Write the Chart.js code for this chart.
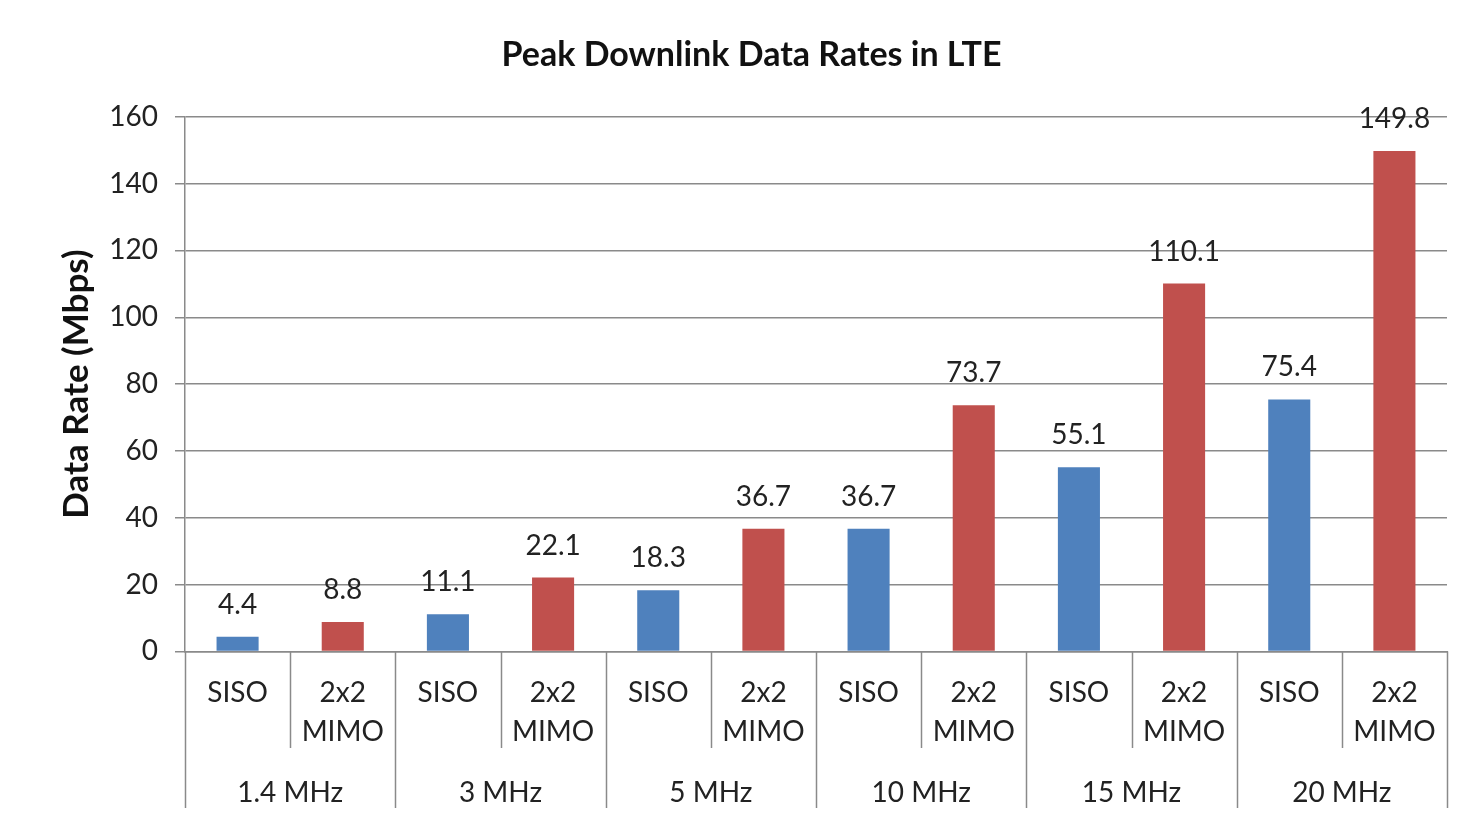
<!doctype html>
<html>
  <head>
    <script src="https://cdnjs.cloudflare.com/ajax/libs/Chart.js/4.4.1/chart.umd.js"></script>
    <style>
      body { margin: 0; background: #fff; }
      #wrap { width: 1474px; height: 825px; }
    </style>
    <script>
      // values
      let bandwidths = ['1.4 MHz', '3 MHz', '5 MHz', '10 MHz', '15 MHz', '20 MHz'];
      let modes = [['SISO'], ['2x2', 'MIMO']];
      let sisoRates = [4.4, 11.1, 18.3, 36.7, 55.1, 75.4];
      let mimoRates = [8.8, 22.1, 36.7, 73.7, 110.1, 149.8];
      let yTicks = [0, 20, 40, 60, 80, 100, 120, 140, 160];

      let blue = '#4F81BD';
      let red = '#C0504D';
      let lineColor = '#8a8a8a';
      let fontName = "Lato, 'Open Sans', sans-serif";

      // one bar per (bandwidth, mode)
      let labels = [];
      let values = [];
      let colors = [];
      for (let i = 0; i < bandwidths.length; i++) {
        labels.push(modes[0]); values.push(sisoRates[i]); colors.push(blue);
        labels.push(modes[1]); values.push(mimoRates[i]); colors.push(red);
      }

      // numbers on top of the bars
      let valueLabels = {
        id: 'valueLabels',
        afterDatasetsDraw(chart) {
          let ctx = chart.ctx;
          let meta = chart.getDatasetMeta(0);
          ctx.save();
          ctx.font = '28px ' + fontName;
          ctx.fillStyle = '#222';
          ctx.textAlign = 'center';
          ctx.textBaseline = 'alphabetic';
          meta.data.forEach(function (bar, i) {
            ctx.fillText(String(values[i]), bar.x, bar.y - 23);
          });
          ctx.restore();
        }
      };

      // the separators of the two level category axis
      let axisBoxes = {
        id: 'axisBoxes',
        afterDraw(chart) {
          let ctx = chart.ctx;
          let area = chart.chartArea;
          let n = labels.length;
          let step = (area.right - area.left) / n;
          ctx.save();
          ctx.strokeStyle = lineColor;
          ctx.lineWidth = 1.5;
          for (let i = 0; i <= n; i++) {
            let px = Math.round(area.left + i * step) + 0.5;
            let end = (i % 2 == 0) ? 808 : 748;
            ctx.beginPath();
            ctx.moveTo(px, area.bottom);
            ctx.lineTo(px, end);
            ctx.stroke();
          }
          ctx.restore();
        }
      };

      function startPage() {
        new Chart(document.getElementById('c1'), {
          type: 'bar',
          data: {
            labels: labels,
            datasets: [{
              data: values,
              backgroundColor: colors,
              barPercentage: 0.4,
              categoryPercentage: 1.0
            }]
          },
          options: {
            responsive: true,
            maintainAspectRatio: false,
            animation: false,
            layout: { padding: { left: 56, right: 27, top: 0, bottom: 12 } },
            plugins: {
              legend: { display: false },
              tooltip: { enabled: false },
              title: {
                display: true,
                text: 'Peak Downlink Data Rates in LTE',
                color: '#111',
                font: { family: fontName, size: 34, weight: 'bold' },
                padding: { top: 35, bottom: 41 }
              }
            },
            scales: {
              x: {
                type: 'category',
                offset: true,
                grid: { display: false, drawTicks: false },
                border: { display: true, color: lineColor, width: 1.5 },
                ticks: {
                  color: '#222',
                  font: { family: fontName, size: 28, lineHeight: 1.4 },
                  padding: 22,
                  autoSkip: false,
                  maxRotation: 0
                }
              },
              x2: {
                type: 'category',
                position: 'bottom',
                labels: bandwidths,
                offset: true,
                grid: { display: false, drawTicks: false },
                border: { display: false },
                ticks: {
                  color: '#222',
                  font: { family: fontName, size: 28, lineHeight: 1.4 },
                  padding: 0,
                  autoSkip: false,
                  maxRotation: 0
                }
              },
              y: {
                min: 0,
                max: 160,
                afterBuildTicks: function (scale) {
                  scale.ticks = yTicks.map(function (v) { return { value: v }; });
                },
                afterFit: function (scale) { scale.width = 129; },
                grid: { color: lineColor, lineWidth: 1.5, tickLength: 10 },
                border: { display: true, color: lineColor, width: 1.5 },
                ticks: {
                  color: '#222',
                  font: { family: fontName, size: 28 },
                  padding: 17
                },
                title: {
                  display: true,
                  text: 'Data Rate (Mbps)',
                  color: '#111',
                  font: { family: fontName, size: 35, weight: 'bold' },
                  padding: 0
                }
              }
            }
          },
          plugins: [valueLabels, axisBoxes]
        });
      }
    </script>
  </head>
  <body onload="startPage()">
    <div id="wrap">
      <canvas id="c1"></canvas>
    </div>
  </body>
</html>
